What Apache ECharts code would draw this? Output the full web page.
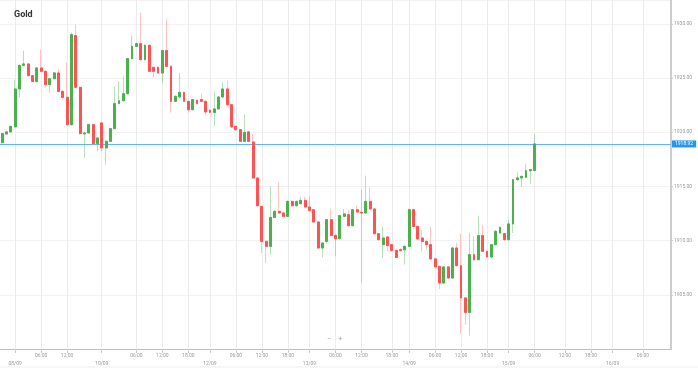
<!DOCTYPE html>
<html>
<head>
<meta charset="utf-8">
<script src="https://cdn.jsdelivr.net/npm/echarts@6/dist/echarts.min.js"></script>
<style>
html,body{margin:0;padding:0;background:#fff;}
#c{width:698px;height:369px;}
</style>
</head>
<body>
<div id="c"></div>
<script>
// ---- data (hourly candles) ----
const open = [1919.04,1919.84,1920.03,1920.49,1923.99,1926.17,1926.30,1925.22,1924.69,1925.93,
1925.62,1924.39,1924.94,1925.47,1923.77,1923.22,1920.70,1928.91,1924.14,1919.84,
1919.93,1920.70,1918.95,1920.86,1918.55,1919.16,1920.33,1922.64,1922.91,1923.56,
1926.79,1927.92,1928.17,1926.70,1928.02,1925.99,1925.99,1925.47,1927.53,1926.08,
1922.85,1923.25,1923.68,1922.85,1922.08,1922.94,1923.01,1922.85,1922.02,1921.83,
1922.15,1923.25,1923.99,1922.54,1920.54,1920.24,1919.16,1920.03,1919.10,1915.78,
1913.16,1909.93,1909.47,1912.14,1912.70,1912.55,1912.24,1913.62,1913.22,1913.41,
1913.71,1913.10,1912.85,1911.72,1909.32,1909.93,1911.93,1910.48,1910.18,1912.24,
1912.39,1911.38,1912.85,1912.61,1912.55,1913.62,1912.92,1910.64,1909.63,1910.34,
1909.63,1909.10,1909.16,1909.16,1909.47,1912.85,1911.31,1910.24,1909.93,1909.63,
1908.31,1907.62,1906.09,1907.57,1906.55,1909.32,1907.69,1904.71,1903.38,1908.70,
1908.24,1910.46,1909.01,1908.49,1909.63,1910.70,1910.64,1910.09,1911.54,1915.62,
1915.78,1915.84,1916.45,1916.48];
const high = [1919.95,1920.10,1920.60,1924.85,1926.25,1927.53,1926.35,1925.25,1926.00,1927.62,
1925.70,1925.00,1925.55,1925.78,1923.85,1926.42,1929.19,1929.93,1924.20,1920.08,
1920.80,1920.80,1919.55,1920.95,1919.25,1920.40,1924.20,1924.69,1925.16,1926.85,
1928.91,1928.25,1931.03,1928.10,1928.10,1926.05,1926.05,1927.60,1930.39,1926.15,
1923.40,1925.47,1923.75,1922.90,1923.10,1923.00,1923.56,1922.90,1922.10,1923.77,
1923.30,1924.69,1924.76,1922.60,1920.60,1920.30,1921.62,1920.10,1919.85,1915.85,
1913.20,1910.00,1915.00,1912.80,1915.37,1912.60,1913.70,1913.70,1913.70,1914.08,
1914.08,1914.08,1912.90,1911.80,1909.85,1912.00,1912.92,1910.55,1912.40,1912.92,
1912.85,1912.95,1913.22,1914.70,1915.99,1914.91,1913.00,1910.70,1911.31,1910.40,
1909.70,1909.15,1909.30,1909.55,1912.95,1912.95,1911.40,1911.01,1910.00,1911.31,
1908.40,1907.70,1907.65,1907.65,1909.40,1909.78,1910.64,1904.80,1910.70,1910.39,
1912.30,1911.47,1909.10,1909.70,1910.95,1911.30,1910.70,1911.87,1915.70,1916.30,
1916.00,1917.07,1916.60,1919.78];
const low = [1918.95,1919.80,1919.98,1920.45,1923.22,1926.10,1925.15,1924.60,1924.60,1925.55,
1924.10,1923.65,1924.90,1923.70,1923.10,1920.60,1920.60,1924.00,1919.80,1917.65,
1919.90,1918.90,1918.23,1918.23,1917.01,1919.10,1920.30,1922.55,1922.85,1923.50,
1926.70,1927.85,1926.60,1926.60,1925.55,1925.04,1925.40,1924.57,1926.00,1921.81,
1922.80,1923.20,1922.80,1921.81,1922.00,1922.55,1922.80,1921.62,1921.75,1920.54,
1922.10,1923.20,1922.45,1920.40,1920.15,1919.10,1919.10,1919.10,1915.70,1913.10,
1908.86,1907.94,1908.70,1912.05,1912.50,1912.15,1912.20,1913.15,1913.15,1913.35,
1913.05,1912.70,1911.65,1909.25,1908.45,1909.70,1910.40,1908.55,1910.10,1912.20,
1911.30,1911.30,1912.55,1906.12,1912.50,1912.85,1910.55,1910.00,1908.40,1909.01,
1909.00,1908.35,1909.00,1907.78,1909.40,1911.25,1910.10,1909.01,1909.16,1908.25,
1907.50,1905.54,1906.00,1906.50,1906.50,1907.60,1901.41,1902.24,1901.23,1908.15,
1908.20,1908.95,1908.40,1908.40,1909.55,1910.65,1910.00,1910.00,1910.70,1915.55,
1914.95,1915.80,1915.25,1916.40];
const close = [1919.87,1920.03,1920.54,1923.99,1926.17,1926.30,1925.22,1924.69,1925.93,1925.62,
1924.39,1924.94,1925.47,1923.77,1923.22,1920.70,1929.00,1924.14,1919.87,1919.93,
1920.70,1918.95,1919.47,1918.55,1919.16,1920.33,1922.64,1922.91,1923.56,1926.79,
1927.92,1928.17,1926.70,1928.02,1925.62,1925.62,1925.47,1927.53,1926.08,1922.85,
1923.31,1923.68,1922.85,1922.08,1923.01,1922.64,1922.85,1921.87,1921.83,1922.15,
1923.25,1923.99,1922.54,1920.49,1920.24,1919.16,1919.99,1919.16,1915.78,1913.22,
1909.93,1909.47,1912.14,1912.70,1912.55,1912.24,1913.62,1913.22,1913.62,1913.71,
1913.10,1912.79,1911.72,1909.32,1909.78,1911.93,1910.48,1910.18,1912.30,1912.46,
1911.38,1912.85,1912.64,1912.55,1913.62,1912.92,1910.64,1910.09,1910.24,1909.54,
1909.10,1908.45,1909.07,1909.47,1912.85,1911.31,1910.15,1909.93,1909.63,1908.31,
1907.57,1906.09,1907.57,1906.55,1909.32,1907.69,1904.71,1903.38,1908.70,1908.24,
1910.46,1909.01,1908.49,1909.63,1910.85,1911.22,1910.09,1911.54,1915.62,1915.78,
1915.93,1916.45,1916.55,1918.92];

// x slots (hours shown on the axis, including empty future slots)
const slotCount = 155;
// axis tick labels and the slot they sit on
const tickSlots  = [3, 9, 15, 23, 31, 37, 43, 48, 54, 60, 66, 71, 77, 83, 90, 94, 100, 106, 112, 117, 123, 130, 136, 141, 148];
const tickLabels = ['08/09','06:00','12:00','10/09','06:00','12:00','18:00','12/09','06:00','12:00','18:00','13/09',
                    '06:00','12:00','18:00','14/09','06:00','12:00','18:00','15/09','06:00','12:00','18:00','16/09','06:00'];
const yTicks = {min: 1900, max: 1932.2, step: 5};

// ---- build options ----
const categories = [];
for (let i = 0; i < slotCount; i++) categories.push(String(i));
const labelMap = {};
tickSlots.forEach((s, k) => labelMap[s] = tickLabels[k]);
const isDate = t => t.indexOf('/') >= 0;

const full = open.map((o, i) => [o, close[i], low[i], high[i]]);
const bodies = open.map((o, i) => [o, close[i], Math.min(o, close[i]), Math.max(o, close[i])]);
const last = close[close.length - 1];

const GREEN = '#4caf50', RED = '#ff5252';
const FONT = 'Roboto, "Noto Sans", sans-serif';

const chart = echarts.init(document.getElementById('c'), null, {renderer: 'canvas'});
chart.setOption({
  animation: false,
  backgroundColor: '#fff',
  title: {text: 'Gold', left: 9, top: 5,
    textStyle: {fontSize: 9, fontWeight: 'bold', color: '#333', fontFamily: FONT}},
  grid: {left: 0, right: 27, top: 0, bottom: 20},
  xAxis: {
    type: 'category', data: categories, boundaryGap: true,
    axisLine: {lineStyle: {color: '#bdbdbd', width: 1}},
    axisTick: {show: true, alignWithLabel: true, length: 4,
      interval: (i) => labelMap[i] !== undefined, lineStyle: {color: '#ccc'}},
    axisLabel: {
      interval: (i) => labelMap[i] !== undefined, margin: 4,
      fontSize: 5, color: '#9a9a9a', fontFamily: FONT,
      formatter: (v, i) => {
        const t = labelMap[i];
        if (t === undefined) return '';
        return isDate(t) ? '{d|' + t + '}' : '{t|' + t + '}';
      },
      rich: {d: {fontSize: 5, color: '#9a9a9a', padding: [8, 0, 0, 0], fontFamily: FONT},
             t: {fontSize: 5, color: '#9a9a9a', fontFamily: FONT}}
    },
    splitLine: {show: false}
  },
  yAxis: {
    type: 'value', position: 'right', scale: true,
    min: yTicks.min, max: yTicks.max, interval: yTicks.step,
    axisLine: {show: true, lineStyle: {color: '#bdbdbd', width: 1.5}},
    axisTick: {show: true, length: 2, lineStyle: {color: '#ccc'}},
    axisLabel: {fontSize: 5, color: '#9a9a9a', margin: 3, fontFamily: FONT,
      showMinLabel: false, showMaxLabel: false, formatter: v => v.toFixed(2)},
    splitLine: {show: true, lineStyle: {color: '#f2f2f2', width: 1}}
  },
  series: [
    {
      type: 'line', data: [], z: 0, silent: true,
      markLine: {
        z: 0, silent: true, symbol: 'none', animation: false,
        label: {show: false},
        lineStyle: {color: '#ececec', type: 'solid', width: 1},
        data: tickSlots.map(s => ({xAxis: String(s)}))
      }
    },
    {
      type: 'candlestick', data: full, z: 2, barWidth: 2.4, silent: true,
      itemStyle: {color: 'rgba(76,175,80,0.4)', color0: 'rgba(255,82,82,0.35)',
        borderColor: 'rgba(76,175,80,0.4)', borderColor0: 'rgba(255,82,82,0.35)', borderWidth: 1}
    },
    {
      type: 'candlestick', data: bodies, z: 3, barWidth: 2.4, silent: true,
      itemStyle: {color: GREEN, color0: RED, borderColor: GREEN, borderColor0: RED, borderWidth: 1},
      markLine: {
        z: 1, silent: true, symbol: 'none', animation: false,
        lineStyle: {color: '#64b5f6', type: 'solid', width: 1},
        label: {show: true, position: 'end', distance: 1, formatter: p => p.value.toFixed(2),
          backgroundColor: '#2196f3', color: '#fff', fontSize: 5, padding: [1, 3, 1, 3], fontFamily: FONT},
        data: [{yAxis: last}]
      }
    }
  ],
  graphic: [
    {type: 'text', left: 327, top: 335, style: {text: '−', fontSize: 8, fill: '#aaa', fontFamily: FONT}},
    {type: 'text', left: 338, top: 335, style: {text: '+', fontSize: 8, fill: '#aaa', fontFamily: FONT}},
    {type: 'line', shape: {x1: 0, y1: 367, x2: 698, y2: 367}, style: {stroke: '#eee', lineWidth: 1}}
  ]
});
</script>
</body>
</html>
